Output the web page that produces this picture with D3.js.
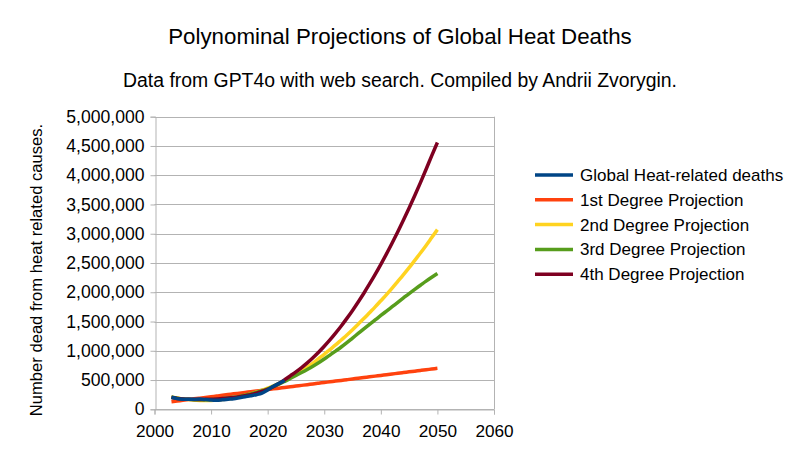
<!DOCTYPE html>
<html>
<head>
<meta charset="utf-8">
<script src="https://cdn.jsdelivr.net/npm/d3@7"></script>
<style>
  html, body { margin: 0; padding: 0; background: #ffffff; }
  svg { display: block; font-family: "Liberation Sans", Arial, sans-serif; }
</style>
</head>
<body>
<svg id="chart" width="800" height="451"></svg>
<script>
// ---------------- DATA ----------------
const title = "Polynominal Projections of Global Heat Deaths";
const subtitle = "Data from GPT4o with web search. Compiled by Andrii Zvorygin.";
const yAxisTitle = "Number dead from heat related causes.";

const seriesNames = [
  "Global Heat-related deaths",
  "1st Degree Projection",
  "2nd Degree Projection",
  "3rd Degree Projection",
  "4th Degree Projection"
];

const actualYears = [2003, 2004, 2005, 2006, 2007, 2008, 2009, 2010, 2011, 2012, 2013,
  2014, 2015, 2016, 2017, 2018, 2019, 2020, 2021, 2022, 2023];
const actualDeaths = [205000, 182000, 172000, 170000, 172000, 174000, 168000, 158000, 155000,
  162000, 172000, 182000, 198000, 215000, 232000, 250000, 275000, 330000, 392000, 442000, 490000];

const projYears = [2003, 2004, 2005, 2006, 2007, 2008, 2009, 2010, 2011, 2012, 2013, 2014,
  2015, 2016, 2017, 2018, 2019, 2020, 2021, 2022, 2023, 2024, 2025, 2026, 2027, 2028, 2029,
  2030, 2031, 2032, 2033, 2034, 2035, 2036, 2037, 2038, 2039, 2040, 2041, 2042, 2043, 2044,
  2045, 2046, 2047, 2048, 2049, 2050];

const proj1 = [130000, 142000, 154000, 166000, 179000, 191000, 203000, 215000, 227000, 239000,
  251000, 264000, 276000, 288000, 300000, 312000, 324000, 336000, 349000, 361000, 373000,
  385000, 397000, 409000, 421000, 434000, 446000, 458000, 470000, 482000, 494000, 506000,
  518000, 531000, 543000, 555000, 567000, 579000, 591000, 603000, 616000, 628000, 640000,
  652000, 664000, 676000, 688000, 700000];

const proj2 = [212000, 193000, 178000, 166000, 157000, 152000, 150000, 152000, 157000, 166000,
  178000, 193000, 212000, 235000, 261000, 291000, 324000, 360000, 400000, 444000, 490000,
  543000, 598000, 657000, 721000, 790000, 865000, 940000, 1020000, 1100000, 1185000, 1270000,
  1360000, 1455000, 1550000, 1650000, 1750000, 1855000, 1960000, 2070000, 2185000, 2300000,
  2420000, 2545000, 2670000, 2800000, 2935000, 3070000];

const proj3 = [205000, 190000, 178000, 170000, 165000, 163000, 164000, 167000, 173000, 181000,
  192000, 205000, 221000, 240000, 262000, 288000, 317000, 350000, 388000, 430000, 478000,
  528000, 578000, 628000, 680000, 735000, 795000, 860000, 925000, 995000, 1065000, 1140000,
  1218000, 1296000, 1374000, 1451000, 1527000, 1603000, 1678000, 1753000, 1828000, 1903000,
  1978000, 2050000, 2120000, 2190000, 2256000, 2320000];

const proj4 = [200000, 185000, 175000, 170000, 168000, 168000, 170000, 173000, 178000, 184000,
  192000, 202000, 215000, 231000, 251000, 276000, 306000, 342000, 385000, 440000, 505000,
  572000, 640000, 714000, 794000, 882000, 976000, 1078000, 1186000, 1302000, 1424000, 1554000,
  1690000, 1834000, 1984000, 2142000, 2306000, 2478000, 2656000, 2842000, 3034000, 3234000,
  3440000, 3654000, 3874000, 4102000, 4336000, 4560000];

const xTicks = [2000, 2010, 2020, 2030, 2040, 2050, 2060];
const yTicks = [0, 500000, 1000000, 1500000, 2000000, 2500000, 3000000, 3500000, 4000000, 4500000, 5000000];

const colors = ["#004586", "#ff420e", "#ffd320", "#579d1c", "#7e0021"];

// ---------------- CHART ----------------
const svg = d3.select("#chart");
const plot = { left: 154.5, right: 494, top: 116.7, bottom: 409.3 };

const x = d3.scaleLinear().domain([2000, 2060]).range([plot.left, plot.right]);
const y = d3.scaleLinear().domain([0, 5000000]).range([plot.bottom, plot.top]);

const gridColor = "#b3b3b3";

// Titles
svg.append("text").attr("x", 400).attr("y", 44).attr("text-anchor", "middle")
  .attr("font-size", 22.3).attr("fill", "#000").text(title);
svg.append("text").attr("x", 400).attr("y", 87).attr("text-anchor", "middle")
  .attr("font-size", 19.4).attr("fill", "#000").text(subtitle);

// Horizontal gridlines
svg.append("g").selectAll("line").data(yTicks).join("line")
  .attr("x1", plot.left).attr("x2", plot.right)
  .attr("y1", d => Math.round(y(d)) + 0.5).attr("y2", d => Math.round(y(d)) + 0.5)
  .attr("stroke", gridColor).attr("stroke-width", 1);

// Right border
svg.append("line").attr("x1", Math.round(plot.right) + 0.5).attr("x2", Math.round(plot.right) + 0.5)
  .attr("y1", plot.top).attr("y2", plot.bottom).attr("stroke", gridColor);

const fmt = d3.format(",");

// Y axis
const yAxis = svg.append("g").attr("transform", `translate(${Math.round(plot.left) + 0.5},0)`)
  .call(d3.axisLeft(y).tickValues(yTicks).tickSize(5).tickPadding(6).tickFormat(fmt));
yAxis.select(".domain").attr("stroke", gridColor);
yAxis.selectAll(".tick line").attr("stroke", gridColor);
yAxis.selectAll(".tick text").attr("font-size", 17.6).attr("fill", "#000")
  .attr("font-family", "Liberation Sans, Arial, sans-serif");

// X axis
const xAxis = svg.append("g").attr("transform", `translate(0,${Math.round(plot.bottom) + 0.5})`)
  .call(d3.axisBottom(x).tickValues(xTicks).tickSize(5).tickPadding(10).tickFormat(d3.format("d")));
xAxis.select(".domain").attr("stroke", gridColor);
xAxis.selectAll(".tick line").attr("stroke", gridColor);
xAxis.selectAll(".tick text").attr("font-size", 17.2).attr("fill", "#000")
  .attr("font-family", "Liberation Sans, Arial, sans-serif");

// Y axis title
svg.append("text")
  .attr("transform", `translate(42,${(plot.top + plot.bottom) / 2 + 7}) rotate(-90)`)
  .attr("text-anchor", "middle").attr("font-size", 16.6).attr("fill", "#000")
  .text(yAxisTitle);

// Lines
const line = d3.line().x(d => x(d[0])).y(d => y(d[1])).curve(d3.curveMonotoneX);
const projections = [proj1, proj2, proj3, proj4];
const layer = svg.append("g");
projections.forEach((vals, i) => {
  layer.append("path")
    .datum(projYears.map((yr, j) => [yr, vals[j]]))
    .attr("fill", "none").attr("stroke", colors[i + 1]).attr("stroke-width", 3.5)
    .attr("stroke-linejoin", "round").attr("d", line);
});
layer.append("path")
  .datum(actualYears.map((yr, j) => [yr, actualDeaths[j]]))
  .attr("fill", "none").attr("stroke", colors[0]).attr("stroke-width", 3.5)
  .attr("stroke-linejoin", "round").attr("d", line);

// Legend
const legend = svg.append("g");
seriesNames.forEach((name, i) => {
  const ly = 175 + i * 24.8;
  legend.append("line").attr("x1", 535).attr("x2", 573).attr("y1", ly).attr("y2", ly)
    .attr("stroke", colors[i]).attr("stroke-width", 3.5);
  legend.append("text").attr("x", 580).attr("y", ly + 6).attr("font-size", 17)
    .attr("fill", "#000").text(name);
});
</script>
</body>
</html>
